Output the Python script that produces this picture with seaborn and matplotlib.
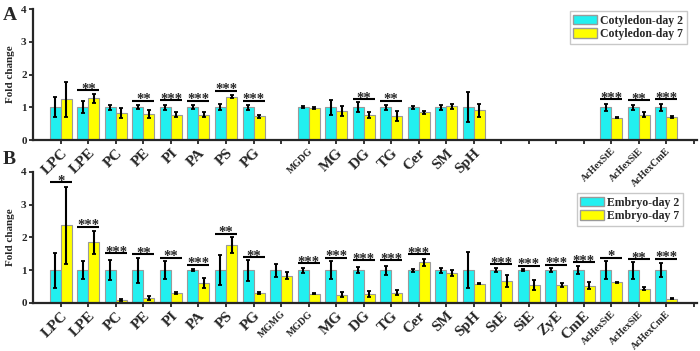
import numpy as np
import pandas as pd
import matplotlib
matplotlib.use('Agg')
import matplotlib.pyplot as plt
import seaborn as sns
from matplotlib.patches import Patch

nan = np.nan

# ---------- данные ----------
categories = ['LPC', 'LPE', 'PC', 'PE', 'PI', 'PA', 'PS', 'PG', 'MGMG', 'MGDG', 'MG',
              'DG', 'TG', 'Cer', 'SM', 'SpH', 'StE', 'SiE', 'ZyE', 'CmE',
              'AcHexStE', 'AcHexSiE', 'AcHexCmE']
small_labels = ['MGMG', 'MGDG', 'AcHexStE', 'AcHexSiE', 'AcHexCmE']

# Panel A: cotyledon
cot_d2 = [1, 1, 1, 1, 1, 1, 1, 1, nan, 1, 1, 1, 1, 1, 1, 1, nan, nan, nan, nan, 1, 1, 1]
cot_d2_err = [0.31, 0.18, 0.07, 0.06, 0.07, 0.06, 0.09, 0.08, nan, 0.03, 0.22,
              0.15, 0.07, 0.05, 0.07, 0.46, nan, nan, nan, nan, 0.10, 0.08, 0.10]
cot_d7 = [1.24, 1.28, 0.82, 0.80, 0.78, 0.78, 1.33, 0.73, nan, 0.98, 0.90,
          0.77, 0.73, 0.85, 1.03, 0.91, nan, nan, nan, nan, 0.68, 0.78, 0.70]
cot_d7_err = [0.53, 0.14, 0.15, 0.13, 0.07, 0.07, 0.05, 0.05, nan, 0.03, 0.15,
              0.10, 0.15, 0.05, 0.07, 0.20, nan, nan, nan, nan, 0.02, 0.08, 0.04]
cot_sig = ['', '**', '', '**', '***', '***', '***', '***', '', '', '',
           '**', '**', '', '', '', '', '', '', '', '***', '**', '***']
cot_sig_y = [nan, 1.53, nan, 1.20, 1.22, 1.20, 1.51, 1.20, nan, nan, nan,
             1.24, 1.20, nan, nan, nan, nan, nan, nan, nan, 1.24, 1.22, 1.24]

# Panel B: embryo
emb_d2 = [1, 1, 1, 1, 1, 1, 1, 1, 1, 1, 1, 1, 1, 1, 1, 1, 1, 1, 1, 1, 1, 1, 1]
emb_d2_err = [0.53, 0.27, 0.30, 0.38, 0.27, 0.04, 0.46, 0.32, 0.20, 0.08, 0.27,
              0.10, 0.14, 0.05, 0.08, 0.55, 0.06, 0.04, 0.06, 0.12, 0.27, 0.26, 0.22]
emb_d7 = [2.37, 1.85, 0.10, 0.15, 0.31, 0.62, 1.76, 0.30, 0.83, 0.28, 0.25,
          0.27, 0.31, 1.24, 0.91, 0.59, 0.67, 0.55, 0.55, 0.53, 0.63, 0.43, 0.13]
emb_d7_err = [1.18, 0.35, 0.03, 0.07, 0.03, 0.15, 0.24, 0.03, 0.10, 0.02, 0.07,
              0.08, 0.07, 0.10, 0.10, 0.02, 0.17, 0.15, 0.07, 0.10, 0.02, 0.05, 0.02]
emb_sig = ['*', '***', '***', '**', '**', '***', '**', '**', '', '***', '***',
           '***', '***', '***', '', '', '***', '***', '***', '***', '*', '**', '***']
emb_sig_y = [3.69, 2.33, 1.51, 1.48, 1.38, 1.17, 2.11, 1.40, nan, 1.22, 1.38,
             1.31, 1.31, 1.48, nan, nan, 1.19, 1.14, 1.17, 1.24, 1.38, 1.33, 1.35]

CYAN = '#22F0F0'
YELLOW = '#FFFF00'
EDGE = '#9a9a9a'

sns.set_style('ticks')
plt.rcParams['font.family'] = ['Liberation Serif', 'DejaVu Serif']
plt.rcParams['font.weight'] = 'bold'


def draw_panel(ax, d2, d2_err, d7, d7_err, sig, sig_y, names, show_all_labels):
    df = pd.DataFrame({
        'lipid': categories * 2,
        'group': [names[0]] * len(categories) + [names[1]] * len(categories),
        'value': list(d2) + list(d7),
    }).dropna()
    sns.barplot(data=df, x='lipid', y='value', hue='group', order=categories,
                hue_order=names, palette=[CYAN, YELLOW], saturation=1,
                edgecolor=EDGE, linewidth=0.8, errorbar=None, width=0.8,
                legend=False, ax=ax)
    pos = np.arange(len(categories))
    ax.errorbar(pos - 0.2, d2, yerr=d2_err, fmt='none', ecolor='black',
                elinewidth=1.5, capsize=1.5, capthick=1.3, zorder=5)
    ax.errorbar(pos + 0.2, d7, yerr=d7_err, fmt='none', ecolor='black',
                elinewidth=1.5, capsize=1.5, capthick=1.3, zorder=5)
    for i, (s, y) in enumerate(zip(sig, sig_y)):
        if s:
            ax.plot([i - 0.4, i + 0.4], [y, y], color='black', lw=1.5,
                    solid_capstyle='butt', zorder=5)
            ax.annotate(s, (i, y), xytext=(0, -4), textcoords='offset points',
                        ha='center', va='bottom', fontsize=10.5, fontweight='bold')

    ax.set_xlim(-1.02, 23.13)
    ax.set_ylim(0, 4)
    ax.set_xticks(list(pos) + [23])
    labels = []
    for i, c in enumerate(categories):
        if show_all_labels or not np.isnan(d2[i]):
            labels.append(c)
        else:
            labels.append('')
    ax.set_xticklabels(labels + [''], rotation=45, ha='right',
                       rotation_mode='anchor', fontweight='bold')
    for lab in ax.get_xticklabels():
        lab.set_fontsize(7.1 if lab.get_text() in small_labels else 11)
    ax.set_yticks([0, 1, 2, 3, 4])
    ax.set_yticklabels(['0', '1', '2', '3', '4'], fontsize=8, fontweight='bold')
    ax.set_xlabel('')
    ax.set_ylabel('Fold change', fontsize=8, fontweight='bold', labelpad=4)
    ax.tick_params(axis='both', direction='out', length=3, width=1.3, pad=1.5)
    sns.despine(ax=ax)
    for sp in ['left', 'bottom']:
        ax.spines[sp].set_linewidth(1.6)
    ax.patch.set_alpha(0)


fig = plt.figure(figsize=(7, 3.51), dpi=100)
ax_b = fig.add_axes([0.047, 0.137, 0.949, 0.373])
ax_a = fig.add_axes([0.047, 0.601, 0.949, 0.373])

cot_names = ['Cotyledon-day 2', 'Cotyledon-day 7']
emb_names = ['Embryo-day 2', 'Embryo-day 7']
draw_panel(ax_a, cot_d2, cot_d2_err, cot_d7, cot_d7_err, cot_sig, cot_sig_y, cot_names, False)
draw_panel(ax_b, emb_d2, emb_d2_err, emb_d7, emb_d7_err, emb_sig, emb_sig_y, emb_names, True)

for ax, names, anchor in [(ax_a, cot_names, (687 / 700, 1 - 11 / 351)),
                          (ax_b, emb_names, (683 / 700, 1 - 193 / 351))]:
    handles = [Patch(facecolor=CYAN, edgecolor=EDGE, label=names[0]),
               Patch(facecolor=YELLOW, edgecolor=EDGE, label=names[1])]
    leg = ax.legend(handles=handles, loc='upper right', bbox_to_anchor=anchor,
                    bbox_transform=fig.transFigure, fancybox=False, frameon=True,
                    edgecolor='#bbbbbb', prop={'weight': 'bold', 'size': 8.5},
                    handlelength=2.0, handleheight=0.9, handletextpad=0.3,
                    borderpad=0.3, labelspacing=0.15, borderaxespad=0)
    leg.get_frame().set_linewidth(1.0)

fig.text(3 / 700, 1 - 20 / 351, 'A', fontsize=14, fontweight='bold')
fig.text(3 / 700, 1 - 164 / 351, 'B', fontsize=14, fontweight='bold')

fig.savefig('out.png', dpi=100)
